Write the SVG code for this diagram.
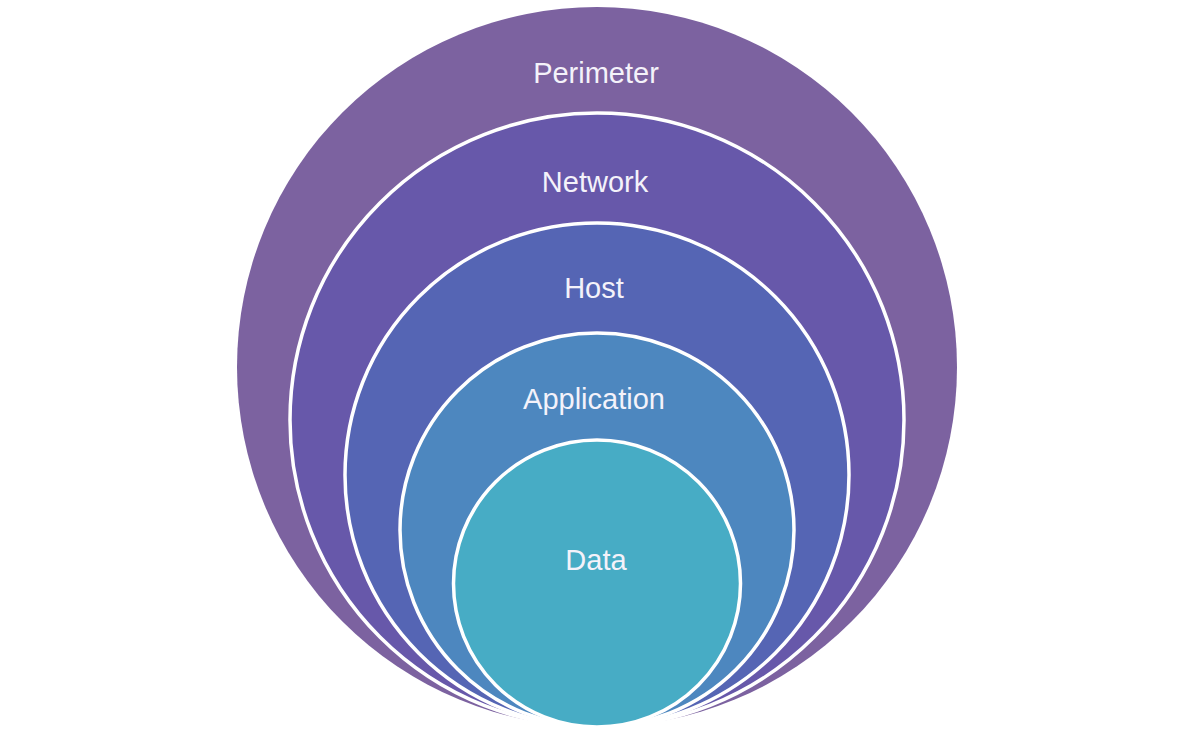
<svg xmlns="http://www.w3.org/2000/svg" width="1200" height="738" viewBox="0 0 1200 738">
<style>
.ring{stroke:#ffffff;stroke-width:3.5}
.lbl{font-family:"Liberation Sans",Arial,sans-serif;font-size:29px;fill:#f4f2fa;text-anchor:middle}
</style>
<rect width="1200" height="738" fill="#ffffff"/>
<g id="perimeter">
<circle cx="597" cy="367" r="360" fill="#7c62a0"/>
<text class="lbl" x="596" y="83">Perimeter</text>
</g>
<g id="network">
<circle class="ring" cx="597" cy="420" r="307" fill="#6758aa"/>
<text class="lbl" x="595" y="192">Network</text>
</g>
<g id="host">
<circle class="ring" cx="597" cy="475" r="252" fill="#5565b4"/>
<text class="lbl" x="594" y="298">Host</text>
</g>
<g id="application">
<circle class="ring" cx="597" cy="530" r="197" fill="#4d87bf"/>
<text class="lbl" x="594" y="409">Application</text>
</g>
<g id="data">
<circle class="ring" cx="597" cy="583.5" r="143.5" fill="#47acc5"/>
<text class="lbl" x="596" y="570">Data</text>
</g>
<g id="connectors"></g>
</svg>
